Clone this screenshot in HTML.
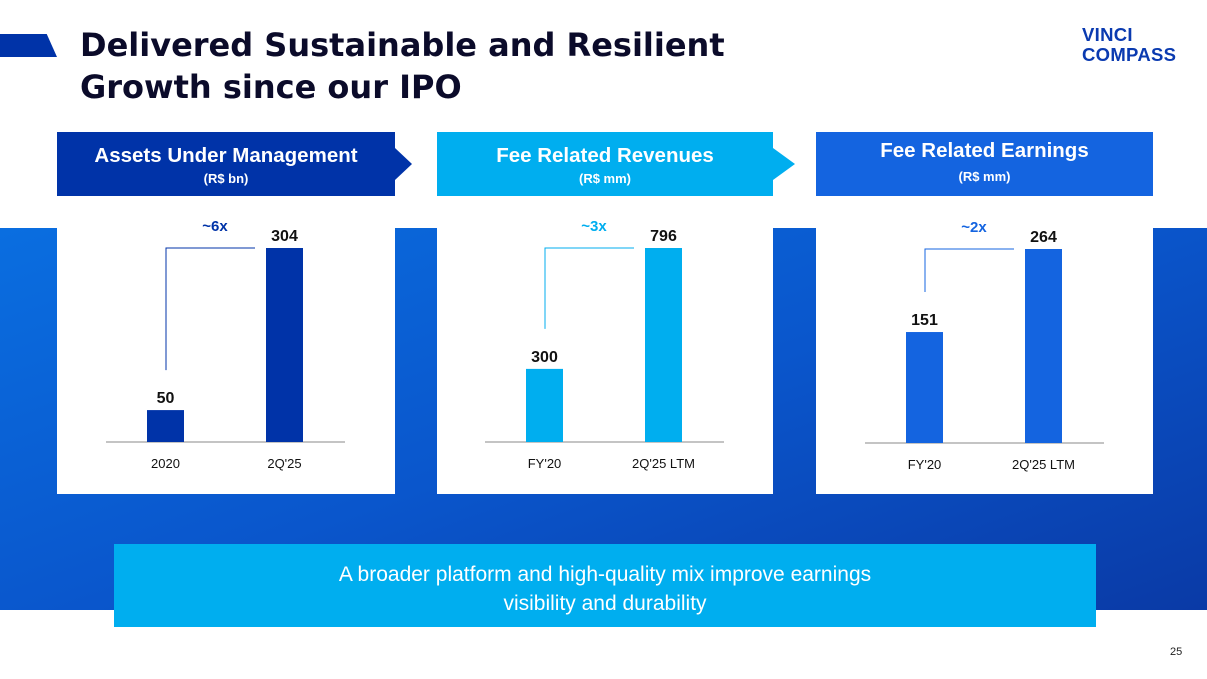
<!DOCTYPE html>
<html><head><meta charset="utf-8"><style>
body{margin:0;width:1207px;height:679px;overflow:hidden;background:#fff;font-family:"Liberation Sans",sans-serif;position:relative}
.abs{position:absolute}
.hdr{position:absolute;top:132px;height:64px;color:#fff;text-align:center;font-weight:bold}
.hdr .t{font-size:20.5px;margin-top:12px}
.hdr .s{font-size:13px;margin-top:3px}
.panel{position:absolute;top:228px;height:266px;background:#fff}
</style></head><body>
<div class="abs" style="left:0;top:228px;width:1207px;height:382px;background:linear-gradient(160deg,#0a6ee0 0%,#0a56cc 50%,#0a3aa6 100%)"></div>
<div class="abs" style="left:0;top:34px;width:57px;height:23px;background:#0033a8;clip-path:polygon(0 0,82% 0,100% 100%,0 100%)"></div>
<div class="abs" style="left:80px;top:24px;font-family:'DejaVu Sans',sans-serif;font-size:32px;font-weight:bold;line-height:42px;color:#0b0b2a">Delivered Sustainable and Resilient<br>Growth since our IPO</div>
<div class="abs" style="left:1082px;top:25px;font-size:18.5px;font-weight:bold;line-height:20px;color:#0a3ab0;letter-spacing:0.3px">VINCI<br>COMPASS</div>

<div class="hdr" style="left:57px;width:338px;background:#0033a8"><div class="t">Assets Under Management</div><div class="s">(R$ bn)</div></div>
<div class="abs" style="left:395px;top:148px;width:17px;height:32px;background:#0033a8;clip-path:polygon(0 0,100% 50%,0 100%)"></div>
<div class="hdr" style="left:437px;width:336px;background:#00aeef"><div class="t">Fee Related Revenues</div><div class="s">(R$ mm)</div></div>
<div class="abs" style="left:773px;top:148px;width:22px;height:32px;background:#00aeef;clip-path:polygon(0 0,100% 50%,0 100%)"></div>
<div class="hdr" style="left:816px;width:337px;background:#1464e0"><div class="t" style="margin-top:7px">Fee Related Earnings</div><div class="s" style="margin-top:6px">(R$ mm)</div></div>

<div class="panel" style="left:57px;width:338px"></div>
<div class="panel" style="left:437px;width:336px"></div>
<div class="panel" style="left:816px;width:337px"></div>

<svg class="abs" style="left:0;top:0" width="1207" height="679" id="svg"></svg>

<div class="abs" style="left:114px;top:544px;width:982px;height:83px;background:#00aeef;color:#fff;font-size:21px;text-align:center;line-height:29px;padding-top:16px;box-sizing:border-box">A broader platform and high-quality mix improve earnings<br>visibility and durability</div>
<div class="abs" style="left:1170px;top:646px;font-size:11px;color:#222">25</div>

<script>
const categories1=["2020","2Q'25"], values1=[50,304];
const categories2=["FY'20","2Q'25 LTM"], values2=[300,796];
const categories3=["FY'20","2Q'25 LTM"], values3=[151,264];
const multiples=["~6x","~3x","~2x"];
const svg=document.getElementById('svg');
const NS='http://www.w3.org/2000/svg';
function mk(t,a,txt){const e=document.createElementNS(NS,t);for(const k in a)e.setAttribute(k,a[k]);if(txt!=null)e.textContent=txt;svg.appendChild(e);return e;}
const charts=[{x0:106,base:442,cats:categories1,vals:values1,col:'#0033a8',lbl:multiples[0],lc:'#0033a8',n:'aum'},
{x0:485,base:442,cats:categories2,vals:values2,col:'#00aeef',lbl:multiples[1],lc:'#00aeef',n:'frr'},
{x0:865,base:443,cats:categories3,vals:values3,col:'#1464e0',lbl:multiples[2],lc:'#1464e0',n:'fre'}];
charts.forEach(c=>{
  const maxV=Math.max(...c.vals);
  const y=v=>c.base-v/maxV*194;
  const bx=i=>c.x0+41+i*119;
  let l=mk('line',{x1:c.x0,x2:c.x0+239,y1:c.base,y2:c.base,stroke:'#888','stroke-width':1});
  
  
  c.vals.forEach((v,i)=>{
    const r=mk('rect',{x:bx(i),y:y(v),width:37,height:c.base-y(v),fill:c.col});
    
    
    const t=mk('text',{x:bx(i)+18.5,y:y(v)-7,'text-anchor':'middle','font-size':16,'font-weight':'bold',fill:'#111'},v);
    
    
    const ct=mk('text',{x:bx(i)+18.5,y:c.base+26,'text-anchor':'middle','font-size':13,fill:'#111'},c.cats[i]);
    
    
  });
  const vx=bx(0)+19, y0=y(c.vals[0])-40, y1=y(c.vals[1]);
  const p=mk('polyline',{points:`${vx},${y0} ${vx},${y1} ${bx(1)-11},${y1}`,fill:'none',stroke:c.lc,'stroke-width':1});
  
  
  const m=mk('text',{x:(vx+bx(1))/2-1,y:y1-17,'text-anchor':'middle','font-size':15,'font-weight':'bold',fill:c.lc},c.lbl);
  
  
});
</script>
</body></html>
